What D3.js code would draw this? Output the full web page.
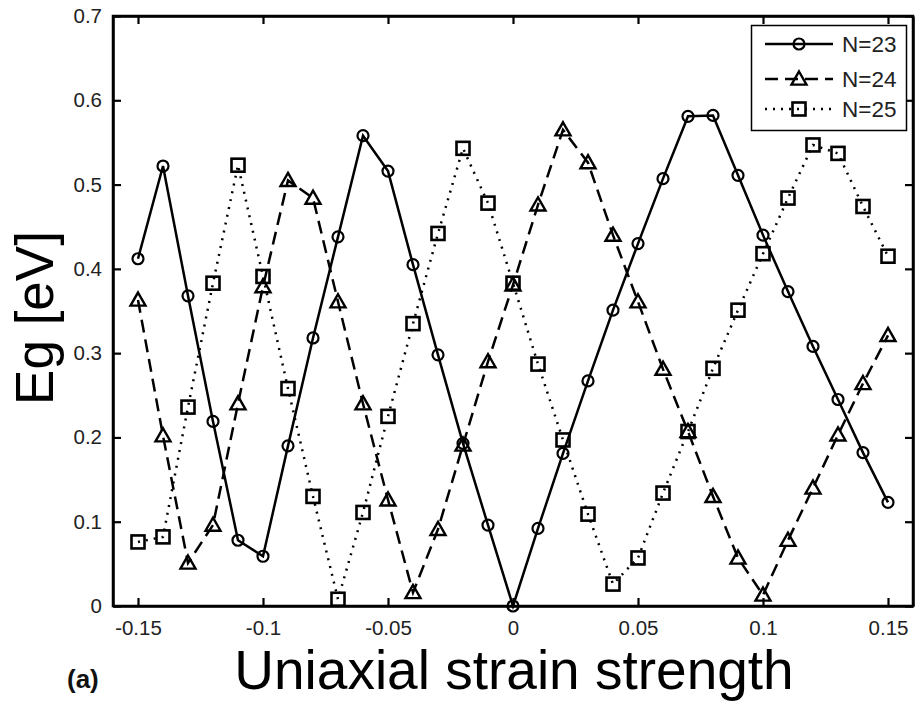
<!DOCTYPE html>
<html>
<head>
<meta charset="utf-8">
<script src="https://cdn.jsdelivr.net/npm/d3@7"></script>
<style>
  html, body { margin: 0; padding: 0; background: #fff; }
  svg { display: block; font-family: "Liberation Sans", Arial, Helvetica, sans-serif; }
</style>
</head>
<body>
<svg id="chart" width="915" height="708"></svg>
<script>
// ---- data ----
const strain = [-0.15,-0.14,-0.13,-0.12,-0.11,-0.10,-0.09,-0.08,-0.07,-0.06,-0.05,-0.04,-0.03,-0.02,-0.01,0,
                0.01,0.02,0.03,0.04,0.05,0.06,0.07,0.08,0.09,0.10,0.11,0.12,0.13,0.14,0.15];
const n23 = [0.412,0.522,0.368,0.219,0.078,0.059,0.190,0.318,0.438,0.558,0.516,0.405,0.298,0.193,0.096,0.000,
             0.092,0.181,0.267,0.351,0.430,0.507,0.581,0.582,0.511,0.440,0.373,0.308,0.245,0.182,0.123];
const n24 = [0.363,0.202,0.051,0.096,0.240,0.379,0.505,0.484,0.361,0.240,0.126,0.016,0.091,0.191,0.290,0.381,
             0.476,0.565,0.526,0.440,0.361,0.281,0.207,0.130,0.057,0.013,0.078,0.140,0.203,0.264,0.321];
const n25 = [0.076,0.082,0.236,0.383,0.523,0.391,0.258,0.130,0.008,0.111,0.225,0.335,0.442,0.543,0.478,0.383,
             0.287,0.197,0.109,0.026,0.057,0.134,0.207,0.282,0.351,0.418,0.484,0.547,0.537,0.474,0.415];
const seriesNames = ["N=23","N=24","N=25"];
const xTicks = [-0.15,-0.1,-0.05,0,0.05,0.1,0.15];
const xTickLabels = ["-0.15","-0.1","-0.05","0","0.05","0.1","0.15"];
const yTicks = [0,0.1,0.2,0.3,0.4,0.5,0.6,0.7];
const yTickLabels = ["0","0.1","0.2","0.3","0.4","0.5","0.6","0.7"];
const xTitle = "Uniaxial strain strength";
const yTitle = "Eg [eV]";
const panelLabel = "(a)";

// ---- layout ----
const svg = d3.select("#chart");
const L = 113, R = 913, T = 16, B = 606;
const x = d3.scaleLinear().domain([-0.16, 0.16]).range([L, R]);
const y = d3.scaleLinear().domain([0, 0.7]).range([B, T]);

const styles = [
  {name: seriesNames[0], data: n23, dash: null, marker: "circle"},
  {name: seriesNames[1], data: n24, dash: "13,7", marker: "triangle"},
  {name: seriesNames[2], data: n25, dash: "2,6", marker: "square"}
];

// axes (ticks inside, mirrored)
const tickLen = 8;
const fmtX = (d) => xTickLabels[xTicks.indexOf(d)];
const fmtY = (d) => yTickLabels[yTicks.indexOf(d)];

const gB = svg.append("g").attr("transform", `translate(0,${B})`)
  .call(d3.axisBottom(x).tickValues(xTicks).tickFormat(fmtX).tickSizeInner(-tickLen).tickSizeOuter(0).tickPadding(14));
const gT = svg.append("g").attr("transform", `translate(0,${T})`)
  .call(d3.axisTop(x).tickValues(xTicks).tickFormat("").tickSizeInner(-tickLen).tickSizeOuter(0));
const gL = svg.append("g").attr("transform", `translate(${L},0)`)
  .call(d3.axisLeft(y).tickValues(yTicks).tickFormat(fmtY).tickSizeInner(-tickLen).tickSizeOuter(0).tickPadding(11));
const gR = svg.append("g").attr("transform", `translate(${R},0)`)
  .call(d3.axisRight(y).tickValues(yTicks).tickFormat("").tickSizeInner(-tickLen).tickSizeOuter(0));

[gB, gT, gL, gR].forEach(g => {
  g.select(".domain").attr("stroke", "#000").attr("stroke-width", 2.5);
  g.selectAll(".tick line").attr("stroke", "#000").attr("stroke-width", 2.2);
  g.selectAll(".tick text").attr("fill", "#222").style("font-size", "20.5px")
    .style("font-family", "'Liberation Sans', Arial, sans-serif");
});
gB.selectAll(".tick text").attr("dy", "0.71em");

// full frame
svg.append("rect").attr("x", L).attr("y", T).attr("width", R - L).attr("height", B - T)
  .attr("fill", "none").attr("stroke", "#000").attr("stroke-width", 2.5);

// ---- series ----
const line = d3.line().x((d, i) => x(strain[i])).y(d => y(d));
const plot = svg.append("g");

function drawMarker(g, type, cx, cy) {
  if (type === "circle") {
    g.append("circle").attr("cx", cx).attr("cy", cy).attr("r", 5.5)
      .attr("fill", "none").attr("stroke", "#000").attr("stroke-width", 2.2);
  } else if (type === "triangle") {
    const s = 7.5;
    g.append("path").attr("d", `M${cx},${cy - s}L${cx + s},${cy + s * 0.75}L${cx - s},${cy + s * 0.75}Z`)
      .attr("fill", "none").attr("stroke", "#000").attr("stroke-width", 2.4);
  } else {
    const s = 6.5;
    g.append("rect").attr("x", cx - s).attr("y", cy - s).attr("width", 2 * s).attr("height", 2 * s)
      .attr("fill", "none").attr("stroke", "#000").attr("stroke-width", 2.6);
  }
}

styles.forEach(st => {
  plot.append("path").datum(st.data).attr("d", line)
    .attr("fill", "none").attr("stroke", "#000").attr("stroke-width", 2.5)
    .attr("stroke-dasharray", st.dash);
  const mg = plot.append("g");
  st.data.forEach((v, i) => drawMarker(mg, st.marker, x(strain[i]), y(v)));
});

// ---- legend ----
const lg = svg.append("g");
lg.append("rect").attr("x", 751.5).attr("y", 25.5).attr("width", 155).attr("height", 105)
  .attr("fill", "#fff").attr("stroke", "#000").attr("stroke-width", 1.5);
const ly = [44, 79, 109];
styles.forEach((st, i) => {
  lg.append("line").attr("x1", 765).attr("x2", 833).attr("y1", ly[i]).attr("y2", ly[i])
    .attr("stroke", "#000").attr("stroke-width", 2.5).attr("stroke-dasharray", st.dash);
  drawMarker(lg, st.marker, 799, ly[i]);
  lg.append("text").attr("x", 842).attr("y", ly[i]).attr("dy", "0.36em")
    .style("font-size", "22.5px").attr("fill", "#222").text(st.name);
});

// ---- titles ----
svg.append("text").attr("x", 514).attr("y", 689).attr("text-anchor", "middle")
  .style("font-size", "55px").attr("fill", "#000").text(xTitle);
svg.append("text").attr("transform", "translate(53,318) rotate(-90)").attr("text-anchor", "middle")
  .style("font-size", "53px").attr("fill", "#000").text(yTitle);
svg.append("text").attr("x", 67).attr("y", 688)
  .style("font-size", "26px").style("font-weight", "bold").attr("fill", "#111").text(panelLabel);
</script>
</body>
</html>
